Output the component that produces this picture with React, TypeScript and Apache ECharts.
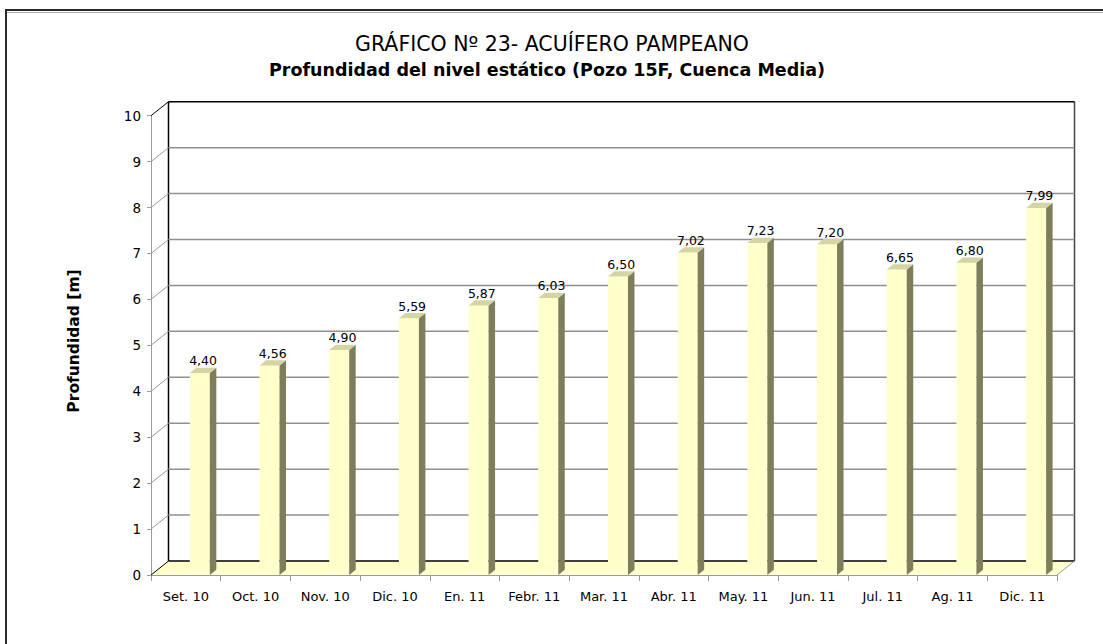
import React, { useEffect, useRef } from "react";
import * as echarts from "echarts";

const categories = ["Set. 10", "Oct. 10", "Nov. 10", "Dic. 10", "En. 11", "Febr. 11", "Mar. 11", "Abr. 11", "May. 11", "Jun. 11", "Jul. 11", "Ag. 11", "Dic. 11"];
const depths = [4.40, 4.56, 4.90, 5.59, 5.87, 6.03, 6.50, 7.02, 7.23, 7.20, 6.65, 6.80, 7.99];
const yTicks = [0, 1, 2, 3, 4, 5, 6, 7, 8, 9, 10];
const titleLine1 = "GRÁFICO Nº 23- ACUÍFERO PAMPEANO";
const titleLine2 = "Profundidad del nivel estático (Pozo 15F, Cuenca Media)";
const yAxisTitle = "Profundidad [m]";

const FONT = "'DejaVu Sans', Verdana, sans-serif";
const DX = 17.5;
const DY = -14;

export default function App() {
  const ref = useRef<HTMLDivElement>(null);
  useEffect(() => {
    if (!ref.current) return;
    const chart = echarts.init(ref.current, null, { renderer: "svg" });
    const yMax = yTicks[yTicks.length - 1];
    const option: any = {
      animation: false,
      backgroundColor: "#ffffff",
      grid: { left: 151, right: 46, top: 115.7, bottom: 69, containLabel: false, outerBoundsMode: "none" },
      xAxis: {
        type: "category",
        data: categories,
        boundaryGap: true,
        axisLine: { lineStyle: { color: "#9a9a9a", width: 1 } },
        axisTick: { show: true, length: 6, lineStyle: { color: "#9a9a9a" } },
        axisLabel: { margin: 15, color: "#000", fontSize: 13, fontFamily: FONT },
      },
      yAxis: {
        type: "value",
        min: 0,
        max: yMax,
        interval: 1,
        splitLine: { show: false },
        axisLine: { show: true, lineStyle: { color: "#9a9a9a", width: 1 } },
        axisTick: { show: true, length: 4, lineStyle: { color: "#9a9a9a" } },
        axisLabel: { margin: 10, color: "#000", fontSize: 13.5, fontFamily: FONT },
      },
      graphic: [
        { type: "rect", shape: { x: 6, y: 10, width: 1300, height: 1000 }, style: { fill: "none", stroke: "#2a2a2a", lineWidth: 2 }, silent: true },
        { type: "line", shape: { x1: 7, y1: 12.5, x2: 1103, y2: 12.5 }, style: { stroke: "#b0b0b0", lineWidth: 1 }, silent: true },
        {
          type: "text", x: 552, y: 44,
          style: { text: titleLine1, fontSize: 20.5, fontFamily: FONT, fill: "#000", align: "center", verticalAlign: "middle" },
        },
        {
          type: "text", x: 547, y: 70,
          style: { text: titleLine2, fontSize: 17.5, fontWeight: "bold", fontFamily: FONT, fill: "#000", align: "center", verticalAlign: "middle" },
        },
        {
          type: "text", x: 74, y: 341, rotation: Math.PI / 2,
          style: { text: yAxisTitle, fontSize: 15.5, fontWeight: "bold", fontFamily: FONT, fill: "#000", align: "center", verticalAlign: "middle" },
        },
      ],
      series: [
        {
          type: "custom",
          silent: true,
          z: 1,
          data: yTicks.map((v) => [0, v]),
          renderItem: (params: any, api: any) => {
            const cs = params.coordSys;
            const v = api.value(1);
            const y = api.coord([0, v])[1];
            const x0 = cs.x;
            const x1 = cs.x + cs.width;
            const children: any[] = [];
            const isEdge = v === yTicks[0] || v === yMax;
            if (v === yTicks[0]) {
              children.push({
                type: "polygon",
                shape: { points: [[x0, y], [x1, y], [x1 + DX, y + DY], [x0 + DX, y + DY]] },
                style: { fill: "#FFFFCC", stroke: "none" },
              });
              children.push({ type: "line", shape: { x1: x0 + DX, y1: y + DY, x2: x1 + DX, y2: y + DY }, style: { stroke: "#000", lineWidth: 1.5 } });
              children.push({ type: "line", shape: { x1: x1, y1: y, x2: x1 + DX, y2: y + DY }, style: { stroke: "#9a9a9a", lineWidth: 1 } });
              const yTop = api.coord([0, yMax])[1];
              children.push({ type: "line", shape: { x1: x0 + DX, y1: yTop + DY, x2: x0 + DX, y2: y + DY }, style: { stroke: "#000", lineWidth: 1.5 } });
              children.push({ type: "line", shape: { x1: x1 + DX, y1: yTop + DY, x2: x1 + DX, y2: y + DY }, style: { stroke: "#444", lineWidth: 1.5 } });
            } else if (v === yMax) {
              children.push({ type: "line", shape: { x1: x0 + DX, y1: y + DY, x2: x1 + DX, y2: y + DY }, style: { stroke: "#000", lineWidth: 1.5 } });
            } else {
              children.push({ type: "line", shape: { x1: x0 + DX, y1: y + DY, x2: x1 + DX, y2: y + DY }, style: { stroke: "#909090", lineWidth: 1.5 } });
            }
            children.push({
              type: "line",
              shape: { x1: x0, y1: y, x2: x0 + DX, y2: y + DY },
              style: { stroke: isEdge ? "#000" : "#9a9a9a", lineWidth: 1 },
            });
            return { type: "group", children };
          },
        },
        {
          type: "custom",
          silent: true,
          z: 2,
          data: depths.map((v, i) => [i, v]),
          renderItem: (params: any, api: any) => {
            const i = api.value(0);
            const v = api.value(1);
            const top = api.coord([i, v]);
            const base = api.coord([i, 0]);
            const bw = api.size([1, 0])[0];
            const w = bw * 0.287;
            const l = top[0] + bw * 0.057;
            const ty = top[1];
            const by = base[1];
            const sx = 6.5;
            const sy = -5.2;
            const label = depths[params.dataIndex].toFixed(2).replace(".", ",");
            return {
              type: "group",
              children: [
                { type: "rect", shape: { x: l, y: ty, width: w, height: by - ty }, style: { fill: "#FFFFCC" } },
                { type: "polygon", shape: { points: [[l + w, ty], [l + w + sx, ty + sy], [l + w + sx, by + sy], [l + w, by]] }, style: { fill: "#7E7E5C" } },
                { type: "polygon", shape: { points: [[l, ty], [l + w, ty], [l + w + sx, ty + sy], [l + sx, ty + sy]] }, style: { fill: "#D4D4A4" } },
                {
                  type: "text",
                  style: { text: label, x: l + (w + sx) / 2, y: ty + sy - 0.5, align: "center", verticalAlign: "bottom", fontSize: 12.5, fontFamily: FONT, fill: "#000" },
                },
              ],
            };
          },
        },
      ],
    };
    chart.setOption(option);
    return () => chart.dispose();
  }, []);
  return (
    <div
      ref={ref}
      style={{ position: "absolute", left: 0, top: 0, width: 1103, height: 644, background: "#fff" }}
    />
  );
}
